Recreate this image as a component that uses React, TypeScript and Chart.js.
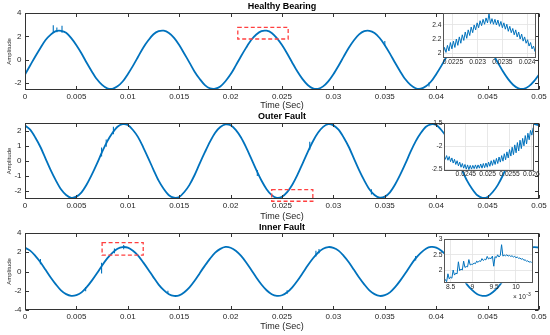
import React, { useEffect, useRef } from "react";
import { Chart, registerables } from "chart.js";

Chart.register(...registerables);

// ------------------------------------------------------------------ data
const mainTime = [
  0, 0.0005, 0.001, 0.0015, 0.002, 0.0025, 0.003, 0.0035, 0.004, 0.0045,
  0.005, 0.0055, 0.006, 0.0065, 0.007, 0.0075, 0.008, 0.0085, 0.009, 0.0095,
  0.01, 0.0105, 0.011, 0.0115, 0.012, 0.0125, 0.013, 0.0135, 0.014, 0.0145,
  0.015, 0.0155, 0.016, 0.0165, 0.017, 0.0175, 0.018, 0.0185, 0.019, 0.0195,
  0.02, 0.0205, 0.021, 0.0215, 0.022, 0.0225, 0.023, 0.0235, 0.024, 0.0245,
  0.025, 0.0255, 0.026, 0.0265, 0.027, 0.0275, 0.028, 0.0285, 0.029, 0.0295,
  0.03, 0.0305, 0.031, 0.0315, 0.032, 0.0325, 0.033, 0.0335, 0.034, 0.0345,
  0.035, 0.0355, 0.036, 0.0365, 0.037, 0.0375, 0.038, 0.0385, 0.039, 0.0395,
  0.04, 0.0405, 0.041, 0.0415, 0.042, 0.0425, 0.043, 0.0435, 0.044, 0.0445,
  0.045, 0.0455, 0.046, 0.0465, 0.047, 0.0475, 0.048, 0.0485, 0.049, 0.0495,
  0.05,
];

const healthyValues = [
  -1.27, -0.5, 0.27, 1.0, 1.68, 2.15, 2.44, 2.47, 2.3, 1.85,
  1.24, 0.53, -0.27, -1.01, -1.68, -2.16, -2.46, -2.5, -2.28, -1.87,
  -1.24, -0.53, 0.25, 1.03, 1.66, 2.18, 2.44, 2.48, 2.28, 1.87,
  1.26, 0.51, -0.25, -1.03, -1.66, -2.18, -2.46, -2.49, -2.3, -1.85,
  -1.26, -0.51, 0.27, 1.01, 1.68, 2.16, 2.45, 2.48, 2.29, 1.85,
  1.25, 0.53, -0.26, -1.02, -1.67, -2.17, -2.46, -2.5, -2.29, -1.86,
  -1.25, -0.52, 0.26, 1.02, 1.67, 2.17, 2.44, 2.47, 2.28, 1.86,
  1.24, 0.52, -0.27, -1.01, -1.68, -2.16, -2.45, -2.49, -2.28, -1.87,
  -1.24, -0.53, 0.25, 1.03, 1.66, 2.16, 2.45, 2.48, 2.3, 1.85,
  1.26, 0.51, -0.26, -1.02, -1.67, -2.17, -2.46, -2.5, -2.29, -1.86,
  -1.27,
];

const outerValues = [
  2.38, 2.1, 1.58, 0.94, 0.16, -0.61, -1.3, -1.9, -2.28, -2.47,
  -2.39, -2.1, -1.58, -0.92, -0.18, 0.61, 1.32, 1.88, 2.3, 2.47,
  2.41, 2.08, 1.6, 0.92, 0.18, -0.59, -1.32, -1.88, -2.3, -2.46,
  -2.41, -2.08, -1.6, -0.94, -0.16, 0.59, 1.3, 1.9, 2.28, 2.46,
  2.4, 2.09, 1.59, 0.93, 0.17, -0.6, -1.31, -1.89, -2.29, -2.47,
  -2.4, -2.09, -1.59, -0.93, -0.17, 0.6, 1.31, 1.89, 2.29, 2.47,
  2.39, 2.1, 1.58, 0.94, 0.16, -0.61, -1.3, -1.9, -2.28, -2.46,
  -2.39, -2.1, -1.58, -0.92, -0.18, 0.61, 1.32, 1.88, 2.3, 2.46,
  2.41, 2.08, 1.6, 0.92, 0.18, -0.59, -1.32, -1.88, -2.3, -2.47,
  -2.41, -2.08, -1.6, -0.94, -0.16, 0.59, 1.3, 1.9, 2.28, 2.47,
  2.4,
];

const innerValues = [
  2.46, 2.17, 1.63, 0.97, 0.17, -0.63, -1.34, -1.96, -2.35, -2.53,
  -2.46, -2.17, -1.63, -0.95, -0.19, 0.63, 1.36, 1.94, 2.37, 2.54,
  2.48, 2.15, 1.65, 0.95, 0.19, -0.61, -1.36, -1.94, -2.37, -2.54,
  -2.48, -2.15, -1.65, -0.97, -0.17, 0.61, 1.34, 1.96, 2.35, 2.55,
  2.47, 2.16, 1.64, 0.96, 0.18, -0.62, -1.35, -1.95, -2.36, -2.53,
  -2.47, -2.16, -1.64, -0.96, -0.18, 0.62, 1.35, 1.95, 2.36, 2.54,
  2.46, 2.17, 1.63, 0.97, 0.17, -0.63, -1.34, -1.96, -2.35, -2.54,
  -2.46, -2.17, -1.63, -0.95, -0.19, 0.63, 1.36, 1.94, 2.37, 2.55,
  2.48, 2.15, 1.65, 0.95, 0.19, -0.61, -1.36, -1.94, -2.37, -2.53,
  -2.48, -2.15, -1.65, -0.97, -0.17, 0.61, 1.34, 1.96, 2.35, 2.54,
  2.47,
];

// short impulsive spikes riding on the waveforms
const healthySpikeT = [0.00275, 0.0031, 0.0036, 0.035, 0.0393];
const healthySpikeLo = [2.3, 2.35, 2.3, 1.2, -2.3];
const healthySpikeHi = [2.95, 2.75, 2.9, 1.6, -1.95];

const outerSpikeT = [0.00745, 0.0079, 0.0086, 0.0226, 0.0277, 0.0337];
const outerSpikeLo = [0.3, 0.95, 1.8, -1.0, 0.75, -2.25];
const outerSpikeHi = [0.9, 1.45, 2.3, -0.6, 1.3, -1.9];

const innerSpikeT = [0.0015, 0.0059, 0.00745, 0.0087, 0.0096, 0.0139, 0.0255, 0.0283, 0.0286, 0.038];
const innerSpikeLo = [0.75, -2.05, -0.2, 1.9, 2.3, -2.35, -2.3, 1.55, 1.9, 1.15];
const innerSpikeHi = [1.3, -1.6, 0.9, 2.4, 2.75, -2.0, -1.95, 2.15, 2.35, 1.6];

// zoom windows (red dashed boxes)
const healthyZoomX = [0.0207, 0.0256];
const healthyZoomY = [1.77, 2.77];
const outerZoomX = [0.024, 0.028];
const outerZoomY = [-2.7, -1.92];
const innerZoomX = [0.0075, 0.0115];
const innerZoomY = [1.7, 3.0];

// tick labels
const mainXTicks = [0, 0.005, 0.01, 0.015, 0.02, 0.025, 0.03, 0.035, 0.04, 0.045, 0.05];
const healthyYTicks = [-2, 0, 2, 4];
const outerYTicks = [-2, -1, 0, 1, 2];
const innerYTicks = [-4, -2, 0, 2, 4];

// inset 1 (healthy, around 0.023 s)
const inset1Time = [
  0.0223, 0.02233, 0.02236, 0.02239, 0.02242, 0.02245, 0.02248, 0.02251, 0.02254, 0.02257,
  0.0226, 0.02263, 0.02266, 0.02269, 0.02272, 0.02275, 0.02278, 0.02281, 0.02284, 0.02287,
  0.0229, 0.02293, 0.02296, 0.02299, 0.02302, 0.02305, 0.02308, 0.02311, 0.02314, 0.02317,
  0.0232, 0.02323, 0.02326, 0.02329, 0.02332, 0.02335, 0.02338, 0.02341, 0.02344, 0.02347,
  0.0235, 0.02353, 0.02356, 0.02359, 0.02362, 0.02365, 0.02368, 0.02371, 0.02374, 0.02377,
  0.0238, 0.02383, 0.02386, 0.02389, 0.02392, 0.02395, 0.02398, 0.02401, 0.02404, 0.02407,
  0.0241, 0.02413, 0.02416,
];
const inset1Values = [
  1.99, 2.08, 2.01, 2.11, 2.03, 2.15, 2.06, 2.17, 2.08, 2.2,
  2.11, 2.23, 2.14, 2.26, 2.18, 2.3, 2.21, 2.33, 2.25, 2.37,
  2.29, 2.4, 2.33, 2.43, 2.36, 2.46, 2.39, 2.48, 2.41, 2.5,
  2.43, 2.56, 2.42, 2.49, 2.41, 2.48, 2.4, 2.47, 2.38, 2.45,
  2.36, 2.43, 2.34, 2.41, 2.31, 2.38, 2.29, 2.35, 2.26, 2.33,
  2.23, 2.3, 2.2, 2.27, 2.17, 2.23, 2.14, 2.19, 2.1, 2.15,
  2.06, 2.1, 2.02,
];
const inset1XTicks = [0.0225, 0.023, 0.0235, 0.024];
const inset1YTicks = [2, 2.2, 2.4];

// inset 2 (outer fault, around 0.025 s)
const inset2Time = [
  0.024, 0.02403, 0.02406, 0.02409, 0.02412, 0.02415, 0.02418, 0.02421, 0.02424, 0.02427,
  0.0243, 0.02433, 0.02436, 0.02439, 0.02442, 0.02445, 0.02448, 0.02451, 0.02454, 0.02457,
  0.0246, 0.02463, 0.02466, 0.02469, 0.02472, 0.02475, 0.02478, 0.02481, 0.02484, 0.02487,
  0.0249, 0.02493, 0.02496, 0.02499, 0.02502, 0.02505, 0.02508, 0.02511, 0.02514, 0.02517,
  0.0252, 0.02523, 0.02526, 0.02529, 0.02532, 0.02535, 0.02538, 0.02541, 0.02544, 0.02547,
  0.0255, 0.02553, 0.02556, 0.02559, 0.02562, 0.02565, 0.02568, 0.02571, 0.02574, 0.02577,
  0.0258, 0.02583, 0.02586, 0.02589, 0.02592, 0.02595, 0.02598, 0.02601, 0.02604,
];
const inset2Values = [
  -2.19, -2.28, -2.2, -2.3, -2.22, -2.33, -2.25, -2.36, -2.28, -2.39,
  -2.31, -2.42, -2.34, -2.45, -2.37, -2.47, -2.39, -2.49, -2.4, -2.5,
  -2.41, -2.49, -2.41, -2.48, -2.4, -2.48, -2.4, -2.47, -2.38, -2.47,
  -2.37, -2.46, -2.36, -2.45, -2.34, -2.43, -2.31, -2.41, -2.29, -2.39,
  -2.26, -2.37, -2.23, -2.34, -2.2, -2.32, -2.16, -2.29, -2.12, -2.25,
  -2.07, -2.21, -2.02, -2.18, -1.97, -2.14, -1.92, -2.1, -1.87, -2.05,
  -1.83, -1.99, -1.77, -1.95, -1.72, -1.86, -1.66, -1.76, -1.6,
];
const inset2XTicks = [0.0245, 0.025, 0.0255, 0.026];
const inset2YTicks = [-2.5, -2, -1.5];

// inset 3 (inner fault, around 9.5e-3 s)
const inset3Time = [
  0.00835, 0.00838, 0.00841, 0.00844, 0.00847, 0.0085, 0.00853, 0.00856, 0.00859, 0.00862,
  0.00865, 0.00868, 0.00871, 0.00874, 0.00877, 0.0088, 0.00883, 0.00886, 0.00889, 0.00892,
  0.00895, 0.00898, 0.00901, 0.00904, 0.00907, 0.0091, 0.00913, 0.00916, 0.00919, 0.00922,
  0.00925, 0.00928, 0.00931, 0.00934, 0.00937, 0.0094, 0.00943, 0.00946, 0.00949, 0.00952,
  0.00955, 0.00958, 0.00961, 0.00964, 0.00967, 0.0097, 0.00973, 0.00976, 0.00979, 0.00982,
  0.00985, 0.00988, 0.00991, 0.00994, 0.00997, 0.01, 0.01003, 0.01006, 0.01009, 0.01012,
  0.01015, 0.01018, 0.01021, 0.01024, 0.01027, 0.0103, 0.01033, 0.01036,
];
const inset3Values = [
  1.66, 1.72, 1.65, 1.9, 1.74, 1.8, 1.76, 2.02, 1.86, 1.92,
  1.9, 2.28, 2.0, 2.05, 2.02, 2.3, 2.1, 2.13, 2.12, 2.35,
  2.18, 2.2, 2.2, 2.24, 2.22, 2.3, 2.26, 2.31, 2.29, 2.38,
  2.32, 2.36, 2.34, 2.45, 2.37, 2.4, 2.38, 2.46, 2.14, 2.44,
  2.41, 2.5, 2.43, 2.48, 2.82, 2.46, 2.49, 2.47, 2.5, 2.46,
  2.48, 2.45, 2.47, 2.43, 2.45, 2.41, 2.43, 2.39, 2.4, 2.36,
  2.38, 2.33, 2.34, 2.3, 2.31, 2.27, 2.28, 2.26,
];
const inset3XTicks = [0.0085, 0.009, 0.0095, 0.01];
const inset3YTicks = [2, 2.5, 3];

// ------------------------------------------------------------------ drawing
const W = 550;
const H = 335;
const FONT = '"Liberation Sans", Arial, Helvetica, sans-serif';
const BLUE = "#0072BD";

interface Area { left: number; top: number; right: number; bottom: number; }

interface Spec {
  area: Area;
  yAxisW: number;
  xAxisH: number;
  times: number[];
  values: number[];
  spikeT?: number[];
  spikeLo?: number[];
  spikeHi?: number[];
  xMin: number; xMax: number; yMin: number; yMax: number;
  xTicks: number[]; yTicks: number[];
  xFmt: (v: number) => string;
  yFmt: (v: number) => string;
  tickFont: number;
  xPad: number; yPad: number;
  lineWidth: number;
  tension: number;
  grid: boolean;
  fillBg: boolean;
  tickLen: number;
  borderColor: string;
  title?: string; titleY?: number;
  xTitle?: string; xTitleY?: number;
  yTitle?: string; yTitleX?: number;
  zoomX?: number[]; zoomY?: number[];
  exponent?: boolean;
}

function framePlugin(s: Spec) {
  return {
    id: "frame",
    beforeDraw(chart: any) {
      if (!s.fillBg) return;
      const { ctx, chartArea: a } = chart;
      ctx.save();
      ctx.fillStyle = "#ffffff";
      ctx.fillRect(a.left, a.top, a.right - a.left, a.bottom - a.top);
      ctx.restore();
    },
    afterDatasetsDraw(chart: any) {
      const { ctx, chartArea: a, scales } = chart;
      const x = scales.x;
      const y = scales.y;
      ctx.save();
      const L = Math.round(a.left) + 0.5;
      const R = Math.round(a.right) - 0.5;
      const T = Math.round(a.top) + 0.5;
      const B = Math.round(a.bottom) - 0.5;
      ctx.strokeStyle = s.borderColor;
      ctx.lineWidth = 1;
      ctx.strokeRect(L, T, R - L, B - T);
      if (s.tickLen > 0) {
        ctx.beginPath();
        s.xTicks.forEach((v) => {
          const px = Math.round(x.getPixelForValue(v)) + 0.5;
          ctx.moveTo(px, B); ctx.lineTo(px, B - s.tickLen);
          ctx.moveTo(px, T); ctx.lineTo(px, T + s.tickLen);
        });
        s.yTicks.forEach((v) => {
          const py = Math.round(y.getPixelForValue(v)) + 0.5;
          ctx.moveTo(L, py); ctx.lineTo(L + s.tickLen, py);
          ctx.moveTo(R, py); ctx.lineTo(R - s.tickLen, py);
        });
        ctx.stroke();
      }
      if (s.zoomX && s.zoomY) {
        const x0 = x.getPixelForValue(s.zoomX[0]);
        const x1 = x.getPixelForValue(s.zoomX[1]);
        const y0 = y.getPixelForValue(s.zoomY[1]);
        const y1 = y.getPixelForValue(s.zoomY[0]);
        ctx.strokeStyle = "#ff4040";
        ctx.lineWidth = 1.3;
        ctx.setLineDash([4, 2.5]);
        ctx.strokeRect(x0, y0, x1 - x0, y1 - y0);
        ctx.setLineDash([]);
      }
      ctx.restore();
    },
    afterDraw(chart: any) {
      const { ctx, chartArea: a } = chart;
      ctx.save();
      const cx = (a.left + a.right) / 2;
      ctx.textAlign = "center";
      ctx.textBaseline = "middle";
      if (s.title) {
        ctx.fillStyle = "#000";
        ctx.font = `bold 9px ${FONT}`;
        ctx.fillText(s.title, cx, s.titleY as number);
      }
      if (s.xTitle) {
        ctx.fillStyle = "#262626";
        ctx.font = `9px ${FONT}`;
        ctx.fillText(s.xTitle, cx, s.xTitleY as number);
      }
      if (s.yTitle) {
        ctx.fillStyle = "#262626";
        ctx.font = `6px ${FONT}`;
        ctx.translate(s.yTitleX as number, (a.top + a.bottom) / 2);
        ctx.rotate(-Math.PI / 2);
        ctx.fillText(s.yTitle, 0, 0);
        ctx.setTransform(1, 0, 0, 1, 0, 0);
      }
      if (s.exponent) {
        ctx.fillStyle = "#262626";
        ctx.textAlign = "left";
        ctx.font = `6.5px ${FONT}`;
        const bx = a.right - 20;
        const by = a.bottom + 13.5;
        ctx.fillText("\u00d7 10", bx, by);
        const w = ctx.measureText("\u00d7 10").width;
        ctx.font = `5px ${FONT}`;
        ctx.fillText("-3", bx + w + 0.5, by - 2.5);
      }
      ctx.restore();
    },
  };
}

function buildConfig(s: Spec): any {
  const datasets: any[] = [
    {
      data: s.times.map((t, i) => ({ x: t, y: s.values[i] })),
      borderColor: BLUE,
      borderWidth: s.lineWidth,
      pointRadius: 0,
      tension: s.tension,
      fill: false,
    },
  ];
  if (s.spikeT && s.spikeLo && s.spikeHi) {
    const pts: any[] = [];
    s.spikeT.forEach((t, i) => {
      pts.push({ x: t, y: s.spikeLo![i] }, { x: t, y: s.spikeHi![i] }, { x: t, y: null });
    });
    datasets.push({
      data: pts,
      borderColor: BLUE,
      borderWidth: 1.1,
      pointRadius: 0,
      spanGaps: false,
      fill: false,
    });
  }
  const tickStyle = (size: number, pad: number, fmt: (v: number) => string) => ({
    font: { family: FONT, size },
    color: "#262626",
    padding: pad,
    maxRotation: 0,
    minRotation: 0,
    autoSkip: false,
    callback: (v: any) => fmt(Number(v)),
  });
  const gridStyle = {
    display: s.grid,
    drawTicks: false,
    color: "#e2e2e2",
    lineWidth: 0.8,
  };
  return {
    type: "line",
    data: { datasets },
    options: {
      responsive: false,
      maintainAspectRatio: false,
      animation: false,
      events: [],
      layout: {
        padding: {
          left: s.area.left - s.yAxisW,
          top: s.area.top,
          right: W - s.area.right,
          bottom: H - s.area.bottom - s.xAxisH,
        },
      },
      plugins: {
        legend: { display: false },
        tooltip: { enabled: false },
        title: { display: false },
      },
      scales: {
        x: {
          type: "linear",
          min: s.xMin,
          max: s.xMax,
          afterBuildTicks: (sc: any) => {
            sc.ticks = s.xTicks.map((v) => ({ value: v }));
          },
          afterFit: (sc: any) => {
            sc.height = s.xAxisH;
          },
          grid: gridStyle,
          border: { display: false },
          ticks: tickStyle(s.tickFont, s.xPad, s.xFmt),
        },
        y: {
          type: "linear",
          min: s.yMin,
          max: s.yMax,
          afterBuildTicks: (sc: any) => {
            sc.ticks = s.yTicks.map((v) => ({ value: v }));
          },
          afterFit: (sc: any) => {
            sc.width = s.yAxisW;
          },
          grid: gridStyle,
          border: { display: false },
          ticks: tickStyle(s.tickFont, s.yPad, s.yFmt),
        },
      },
    },
    plugins: [framePlugin(s)],
  };
}

const fmt = (digits: number) => (v: number) => String(Number(v.toFixed(digits)));
const fmtMs = (v: number) => String(Number((v * 1000).toFixed(2)));

const mainBase = {
  yAxisW: 20,
  xAxisH: 15,
  times: mainTime,
  xMin: 0,
  xMax: 0.05,
  xTicks: mainXTicks,
  xFmt: fmt(4),
  yFmt: fmt(2),
  tickFont: 8,
  xPad: 2,
  yPad: 3.5,
  lineWidth: 1.8,
  tension: 0.3,
  grid: false,
  fillBg: false,
  tickLen: 3.5,
  borderColor: "#333333",
  xTitle: "Time (Sec)",
  yTitle: "Amplitude",
  yTitleX: 9,
};

const insetBase = {
  yAxisW: 12,
  xAxisH: 8,
  tickFont: 6.7,
  xPad: 0,
  yPad: 1.5,
  lineWidth: 1,
  tension: 0,
  grid: true,
  fillBg: true,
  tickLen: 0,
  borderColor: "#555555",
};

const specs: Spec[] = [
  {
    ...mainBase,
    area: { left: 25, top: 13, right: 539, bottom: 90 },
    values: healthyValues,
    spikeT: healthySpikeT, spikeLo: healthySpikeLo, spikeHi: healthySpikeHi,
    yMin: -2.6, yMax: 4, yTicks: healthyYTicks,
    title: "Healthy Bearing", titleY: 6.5, xTitleY: 106,
    zoomX: healthyZoomX, zoomY: healthyZoomY,
  },
  {
    ...mainBase,
    area: { left: 25, top: 123, right: 539, bottom: 199 },
    values: outerValues,
    spikeT: outerSpikeT, spikeLo: outerSpikeLo, spikeHi: outerSpikeHi,
    yMin: -2.55, yMax: 2.55, yTicks: outerYTicks,
    title: "Outer Fault", titleY: 116.7, xTitleY: 217,
    zoomX: outerZoomX, zoomY: outerZoomY,
  },
  {
    ...mainBase,
    area: { left: 25, top: 233, right: 539, bottom: 310 },
    values: innerValues,
    spikeT: innerSpikeT, spikeLo: innerSpikeLo, spikeHi: innerSpikeHi,
    yMin: -4, yMax: 4, yTicks: innerYTicks,
    title: "Inner Fault", titleY: 227.5, xTitleY: 326.5,
    zoomX: innerZoomX, zoomY: innerZoomY,
  },
  {
    ...insetBase,
    area: { left: 443, top: 13, right: 536, bottom: 58 },
    times: inset1Time, values: inset1Values,
    xMin: 0.0223, xMax: 0.02418, yMin: 1.93, yMax: 2.57,
    xTicks: inset1XTicks, yTicks: inset1YTicks,
    xFmt: fmt(5), yFmt: fmt(2),
  },
  {
    ...insetBase,
    area: { left: 444, top: 123, right: 534, bottom: 170.5 },
    times: inset2Time, values: inset2Values,
    xMin: 0.024, xMax: 0.02606, yMin: -2.52, yMax: -1.5,
    xTicks: inset2XTicks, yTicks: inset2YTicks,
    xFmt: fmt(5), yFmt: fmt(2),
  },
  {
    ...insetBase,
    area: { left: 444, top: 239, right: 533, bottom: 283.3 },
    times: inset3Time, values: inset3Values,
    xMin: 0.00835, xMax: 0.01039, yMin: 1.6, yMax: 3,
    xTicks: inset3XTicks, yTicks: inset3YTicks,
    xFmt: fmtMs, yFmt: fmt(2),
    exponent: true,
  },
];

export default function App() {
  const refs = useRef<(HTMLCanvasElement | null)[]>([]);
  useEffect(() => {
    const charts = specs.map((s, i) => new Chart(refs.current[i] as HTMLCanvasElement, buildConfig(s)));
    return () => charts.forEach((c) => c.destroy());
  }, []);
  return (
    <div
      style={{
        position: "fixed",
        left: 0,
        top: 0,
        width: W,
        height: H,
        background: "#ffffff",
        overflow: "hidden",
      }}
    >
      {specs.map((_, i) => (
        <canvas
          key={i}
          ref={(el) => {
            refs.current[i] = el;
          }}
          width={W}
          height={H}
          style={{ position: "absolute", left: 0, top: 0 }}
        />
      ))}
    </div>
  );
}
